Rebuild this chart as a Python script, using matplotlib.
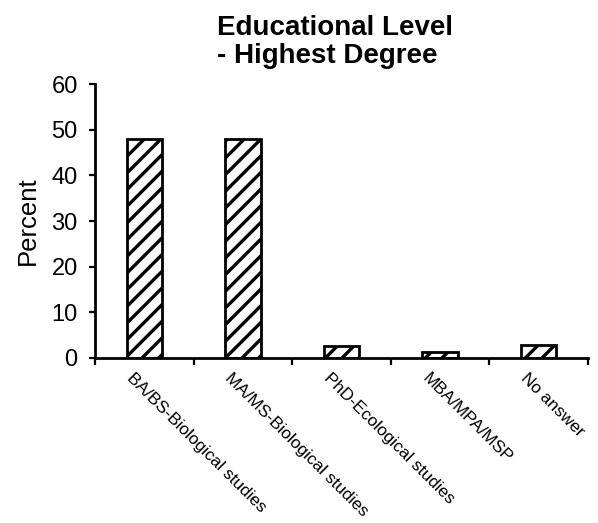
import matplotlib.pyplot as plt
import numpy as np

plt.rcParams['font.family'] = ['Liberation Sans', 'DejaVu Sans']
plt.rcParams['hatch.linewidth'] = 2.4

categories = ['BA/BS-Biological studies', 'MA/MS-Biological studies',
              'PhD-Ecological studies', 'MBA/MPA/MSP', 'No answer']
percent = [48, 48, 2.7, 1.4, 2.9]
y_ticks = [0, 10, 20, 30, 40, 50, 60]

fig = plt.figure(figsize=(5.98, 5.23), dpi=100)
ax = fig.add_axes([0.159, 0.3155, 0.824, 0.5235])

x = np.arange(len(categories))
ax.bar(x, percent, width=0.36, color='white', edgecolor='black',
       linewidth=2.0, hatch='//')

ax.set_xlim(-0.5, len(categories) - 0.5)
ax.set_ylim(0, 60)
ax.set_yticks(y_ticks)
ax.tick_params(axis='y', labelsize=17, length=4.5, width=1.6, pad=8)

# ticks sit on category boundaries, labels under the bars
ax.set_xticks(np.arange(len(categories) + 1) - 0.5)
ax.set_xticklabels([])
ax.tick_params(axis='x', length=5, width=1.6)
for i, name in enumerate(categories):
    ax.text(i - 0.1, -2.8, name, rotation=-45, rotation_mode='anchor',
            ha='left', va='top', fontsize=12.4)

ax.spines['top'].set_visible(False)
ax.spines['right'].set_visible(False)
ax.spines['left'].set_linewidth(2.0)
ax.spines['bottom'].set_linewidth(2.0)

ax.set_ylabel('Percent', fontsize=18.5, labelpad=8)
ax.text(0.487, 1.055, 'Educational Level\n- Highest Degree', transform=ax.transAxes,
        ha='center', va='bottom', ma='left', fontsize=20, fontweight='bold',
        linespacing=1.1)

fig.savefig('out.png', dpi=100)
